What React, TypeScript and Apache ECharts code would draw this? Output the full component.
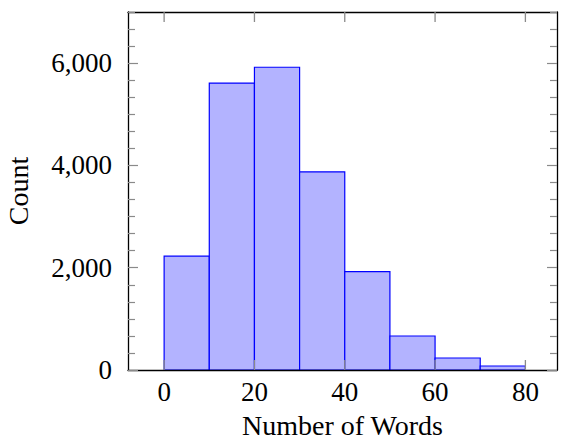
import React, { useEffect, useRef } from "react";
import * as echarts from "echarts";

const binStarts = [0, 10, 20, 30, 40, 50, 60, 70];
const binEnds = [10, 20, 30, 40, 50, 60, 70, 80];
const counts = [2225, 5610, 5920, 3875, 1925, 665, 235, 78];
const xTicks = [0, 20, 40, 60, 80];
const yMajorTicks = [0, 2000, 4000, 6000];
const X_MIN = -8;
const X_MAX = 87;
const Y_MIN = 0;
const Y_MAX = 7000;
const MINOR_PER_MAJOR = 6;

const FONT = "'Liberation Serif', 'DejaVu Serif', serif";

export default function App() {
  const ref = useRef<HTMLDivElement>(null);

  useEffect(() => {
    if (!ref.current) return;
    const chart = echarts.init(ref.current, undefined, { renderer: "svg" });

    const step = (yMajorTicks[1] - yMajorTicks[0]) / MINOR_PER_MAJOR;
    const yMinorTicks: number[] = [];
    for (let v = Y_MIN; v <= Y_MAX + 1e-6; v += step) {
      const isMajor = yMajorTicks.some((m) => Math.abs(m - v) < 1e-6);
      if (!isMajor) yMinorTicks.push(Math.round(v * 1000) / 1000);
    }

    const data = binStarts.map((s, i) => [s, binEnds[i], counts[i]]);
    const tickColor = "#8a8a8a";
    const tickStyle = { color: tickColor, width: 1.2 };
    const frameLine = (show: boolean) => ({ show, onZero: false, lineStyle: { color: "#000", width: 1.3 } });

    const baseY = {
      type: "value" as const,
      min: Y_MIN,
      max: Y_MAX,
      z: 10,
      splitLine: { show: false },
    };

    chart.setOption({
      animation: false,
      textStyle: { fontFamily: FONT },
      grid: { left: 128, top: 12, right: 4, bottom: 71, containLabel: false, outerBoundsMode: "none" },
      xAxis: [
        {
          type: "value",
          min: X_MIN,
          max: X_MAX,
          z: 10,
          position: "bottom",
          splitLine: { show: false },
          axisLine: frameLine(true),
          axisTick: { show: false },
          name: "Number of Words",
          nameLocation: "middle",
          nameGap: 41,
          nameTextStyle: { fontFamily: FONT, fontSize: 28, color: "#000" },
          axisLabel: {
            show: true,
            customValues: xTicks,
            margin: 8,
            fontFamily: FONT,
            fontSize: 27,
            color: "#000",
          },
        },
        {
          type: "value",
          min: X_MIN,
          max: X_MAX,
          z: 10,
          position: "top",
          splitLine: { show: false },
          axisLine: frameLine(true),
          axisTick: { show: false },
          axisLabel: { show: false },
        },
      ],
      yAxis: [
        {
          ...baseY,
          position: "left",
          name: "Count",
          nameLocation: "middle",
          nameGap: 96,
          nameTextStyle: { fontFamily: FONT, fontSize: 28, color: "#000" },
          axisLine: frameLine(true),
          axisTick: { show: true, inside: true, length: 10, customValues: yMajorTicks, lineStyle: tickStyle },
          axisLabel: {
            show: true,
            customValues: yMajorTicks,
            margin: 16,
            fontFamily: FONT,
            fontSize: 27,
            color: "#000",
            formatter: (v: number) => v.toLocaleString("en-US"),
          },
        },
        {
          ...baseY,
          position: "left",
          axisLine: frameLine(false),
          axisTick: { show: true, inside: true, length: 7, customValues: yMinorTicks, lineStyle: tickStyle },
          axisLabel: { show: false, customValues: yMinorTicks },
        },
        {
          ...baseY,
          position: "right",
          axisLine: frameLine(true),
          axisTick: { show: true, inside: true, length: 10, customValues: yMajorTicks, lineStyle: tickStyle },
          axisLabel: { show: false, customValues: yMajorTicks },
        },
        {
          ...baseY,
          position: "right",
          axisLine: frameLine(false),
          axisTick: { show: true, inside: true, length: 7, customValues: yMinorTicks, lineStyle: tickStyle },
          axisLabel: { show: false, customValues: yMinorTicks },
        },
      ],
      series: [
        {
          type: "custom",
          coordinateSystem: "cartesian2d",
          xAxisIndex: 0,
          yAxisIndex: 0,
          z: 2,
          encode: { x: [0, 1], y: 2 },
          data,
          renderItem: (params: any, api: any) => {
            const x0 = api.value(0);
            const x1 = api.value(1);
            const y = api.value(2);
            const p0 = api.coord([x0, 0]);
            const p1 = api.coord([x1, y]);
            return {
              type: "rect",
              shape: { x: p0[0], y: p1[1], width: p1[0] - p0[0], height: p0[1] - p1[1] },
              style: { fill: "#b3b3ff", stroke: "#0000ff", lineWidth: 1.2 },
            };
          },
        },
        {
          type: "scatter",
          xAxisIndex: 0,
          yAxisIndex: 0,
          z: 20,
          silent: true,
          clip: false,
          symbol: "rect",
          symbolSize: [1.3, 10],
          symbolOffset: [0, 5],
          itemStyle: { color: tickColor, opacity: 1 },
          data: xTicks.map((v) => [v, Y_MAX]),
        },
        {
          type: "scatter",
          xAxisIndex: 0,
          yAxisIndex: 0,
          z: 20,
          silent: true,
          clip: false,
          symbol: "rect",
          symbolSize: [1.3, 10],
          symbolOffset: [0, -5],
          itemStyle: { color: tickColor, opacity: 1 },
          data: xTicks.map((v) => [v, Y_MIN]),
        },
      ],
    });

    return () => chart.dispose();
  }, []);

  return (
    <div
      ref={ref}
      style={{ position: "absolute", left: 0, top: 0, width: 561, height: 441, background: "#fff" }}
    />
  );
}
